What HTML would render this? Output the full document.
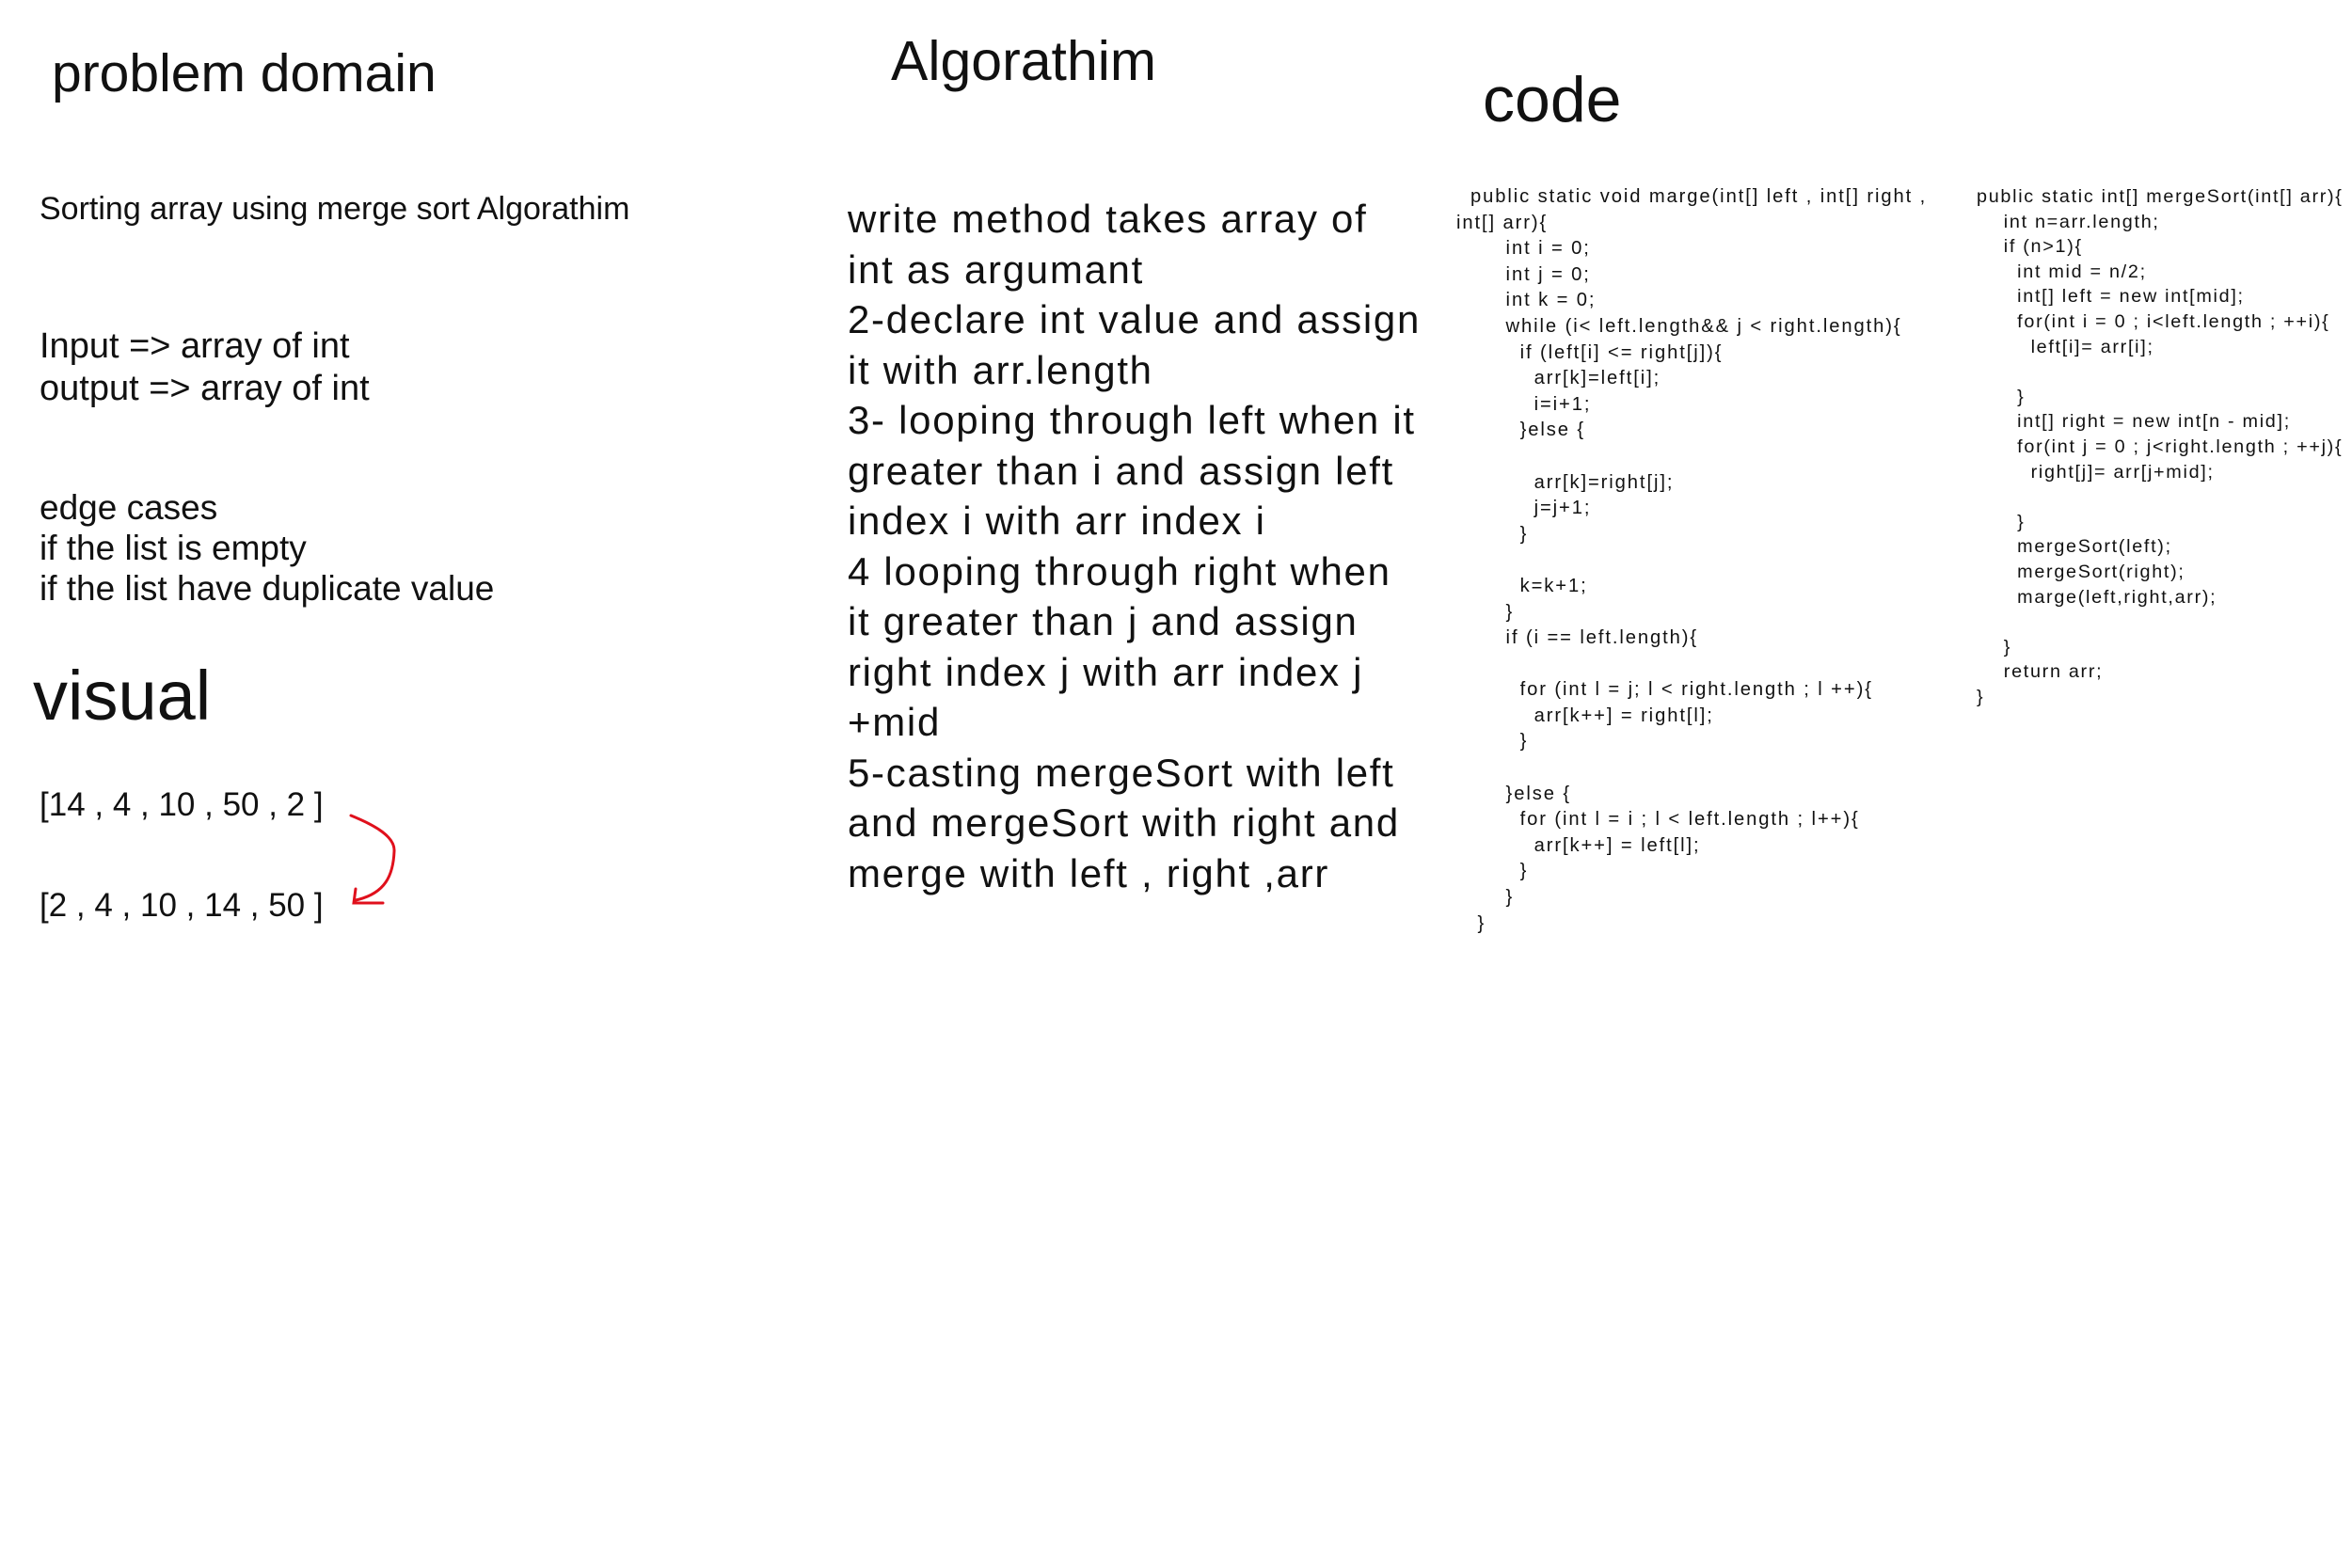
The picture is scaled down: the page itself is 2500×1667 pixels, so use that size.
<!DOCTYPE html>
<html><head><meta charset="utf-8"><style>
html,body{margin:0;padding:0;background:#fff;}
body{width:2500px;height:1667px;position:relative;overflow:hidden;font-family:"Liberation Sans",sans-serif;color:#111;}
.t{position:absolute;white-space:pre;line-height:1;}
.alg{position:absolute;left:901px;top:206px;font-size:42px;line-height:53.5px;white-space:pre;letter-spacing:1.7px;}
.c1{position:absolute;left:1548px;top:196px;font-size:20.2px;line-height:27.6px;white-space:pre;letter-spacing:1.9px;}
.c2{position:absolute;left:2101px;top:196px;font-size:19.8px;line-height:26.6px;white-space:pre;letter-spacing:1.7px;}
</style></head><body>
<div class="t" style="left:55px;top:50px;font-size:57px;">problem domain</div>
<div class="t" style="left:947px;top:36px;font-size:59px;">Algorathim</div>
<div class="t" style="left:1576px;top:72px;font-size:68px;">code</div>
<div class="t" style="left:42px;top:205px;font-size:34px;">Sorting array using merge sort Algorathim</div>
<div class="t" style="left:42px;top:349px;font-size:38px;">Input =&gt; array of int</div>
<div class="t" style="left:42px;top:394px;font-size:38px;">output =&gt; array of int</div>
<div class="t" style="left:42px;top:521px;font-size:37px;">edge cases</div>
<div class="t" style="left:42px;top:564px;font-size:37px;">if the list is empty</div>
<div class="t" style="left:42px;top:607px;font-size:37px;">if the list have duplicate value</div>
<div class="t" style="left:35px;top:703px;font-size:74px;">visual</div>
<div class="t" style="left:42px;top:838px;font-size:35px;">[14 , 4 , 10 , 50 , 2 ]</div>
<div class="t" style="left:42px;top:945px;font-size:35px;">[2 , 4 , 10 , 14 , 50 ]</div>
<svg style="position:absolute;left:0;top:0" width="2500" height="1667">
<path d="M373 867 C400 878 420 890 419 905 C418 930 410 950 378 957" fill="none" stroke="#e0101c" stroke-width="3" stroke-linecap="round"/>
<path d="M378 945 L376 960 L407 960" fill="none" stroke="#e0101c" stroke-width="3" stroke-linecap="round"/>
</svg>
<div class="alg">write method takes array of
int as argumant
2-declare int value and assign
it with arr.length
3- looping through left when it
greater than i and assign left
index i with arr index i
4 looping through right when
it greater than j and assign
right index j with arr index j
+mid
5-casting mergeSort with left
and mergeSort with right and
merge with left , right ,arr</div>
<div class="c1">  public static void marge(int[] left , int[] right ,
int[] arr){
       int i = 0;
       int j = 0;
       int k = 0;
       while (i&lt; left.length&amp;&amp; j &lt; right.length){
         if (left[i] &lt;= right[j]){
           arr[k]=left[i];
           i=i+1;
         }else {

           arr[k]=right[j];
           j=j+1;
         }

         k=k+1;
       }
       if (i == left.length){

         for (int l = j; l &lt; right.length ; l ++){
           arr[k++] = right[l];
         }

       }else {
         for (int l = i ; l &lt; left.length ; l++){
           arr[k++] = left[l];
         }
       }
   }</div>
<div class="c2">public static int[] mergeSort(int[] arr){
    int n=arr.length;
    if (n&gt;1){
      int mid = n/2;
      int[] left = new int[mid];
      for(int i = 0 ; i&lt;left.length ; ++i){
        left[i]= arr[i];

      }
      int[] right = new int[n - mid];
      for(int j = 0 ; j&lt;right.length ; ++j){
        right[j]= arr[j+mid];

      }
      mergeSort(left);
      mergeSort(right);
      marge(left,right,arr);

    }
    return arr;
}</div>
</body></html>
